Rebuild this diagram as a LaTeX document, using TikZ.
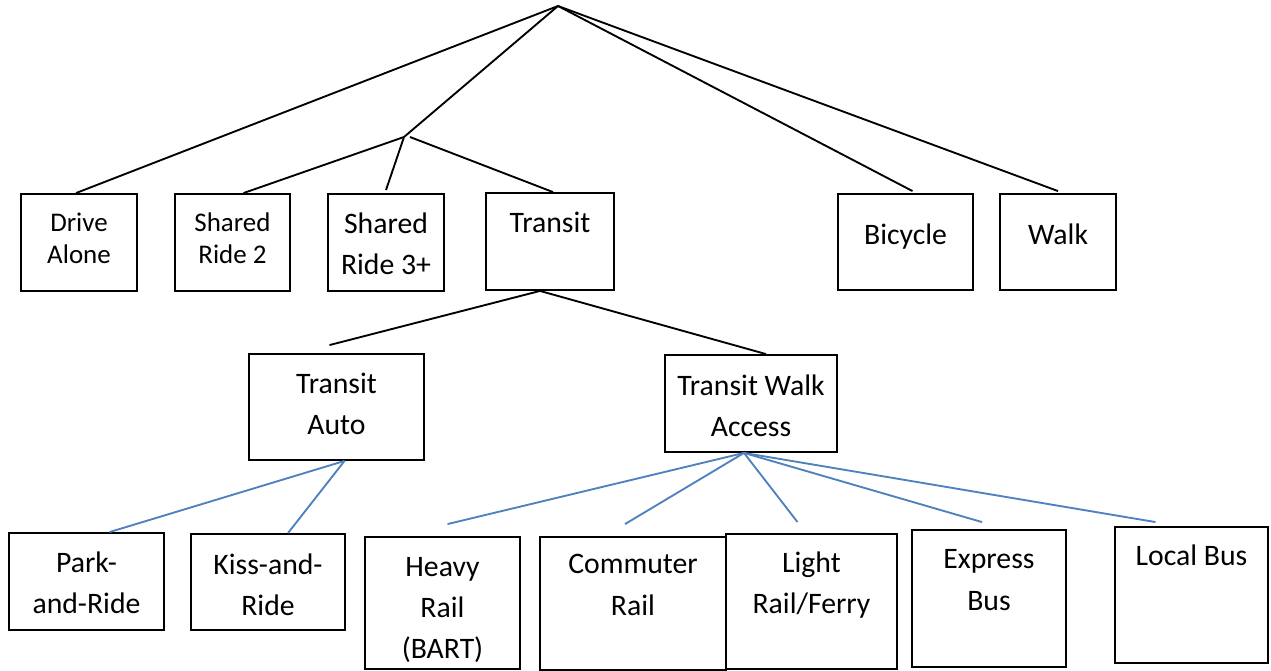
\documentclass[tikz,border=0pt]{standalone}
\usepackage{fontspec}
\setmainfont{Carlito}
\usetikzlibrary{fit, calc}
\definecolor{linkblue}{HTML}{4F81BD}

\begin{document}
\begin{tikzpicture}[x=0.75pt, y=-0.75pt,
  box/.style={rectangle, draw=black, line width=1.4pt, inner sep=0pt},
  modetext/.style={inner sep=0pt, align=center, font=\fontsize{22.3}{31}\selectfont},
  smalltext/.style={font=\fontsize{20.2}{24}\selectfont},
  branch/.style={line width=1.4pt, draw=black},
  sublink/.style={line width=1.4pt, draw=linkblue}
]
  \useasboundingbox (0,0) rectangle (1271,671);

  % Upper level
  \node[box, fit={(21,194) (137,291)}] (drive) {};
  \node[box, fit={(175,194) (290,291)}] (sr2) {};
  \node[box, fit={(328,194) (444,291)}] (sr3) {};
  \node[box, fit={(486,193) (614,290)}] (transit) {};
  \node[box, fit={(838,194) (973,290)}] (bike) {};
  \node[box, fit={(1000,194) (1116,290)}] (walk) {};
  \node[modetext, smalltext] (drivetext) at ($(drive.center)+(0,-4)$) {Drive\\Alone};
  \node[modetext, smalltext] (sr2text) at ($(sr2.center)+(0,-4)$) {Shared\\Ride 2};
  \node[modetext] (sr3text) at ($(sr3.center)+(0,1)$) {Shared\\Ride 3+};
  \node[modetext] (transittext) at ($(transit.center)+(0,1)$) {Transit\\\mbox{}};
  \node[modetext] (biketext) at ($(bike.center)+(0,-5)$) {Bicycle};
  \node[modetext] (walktext) at ($(walk.center)+(0,-8)$) {Walk};

  % Transit access
  \node[box, fit={(249,354) (424,460)}] (tauto) {};
  \node[box, fit={(665,355) (837,452)}] (twalk) {};
  \node[modetext] (tautotext) at ($(tauto.center)+(0,-3)$) {Transit\\Auto};
  \node[modetext] (twalktext) at ($(twalk.center)+(0,2)$) {Transit Walk\\Access};

  % Lower level
  \node[box, fit={(9,533) (164,630)}] (park) {};
  \node[box, fit={(191,534) (345,630)}] (kiss) {};
  \node[box, fit={(365,537) (520,669)}] (heavy) {};
  \node[box, fit={(540,537) (726,670)}] (commuter) {};
  \node[box, fit={(726,534) (897,669)}] (light) {};
  \node[box, fit={(912,530) (1066,667)}] (express) {};
  \node[box, fit={(1115,527) (1268,663)}] (local) {};
  \node[modetext] (parktext) at ($(park.center)+(0,1)$) {Park-\\and-Ride};
  \node[modetext] (kisstext) at ($(kiss.center)+(0,3)$) {Kiss-and-\\Ride};
  \node[modetext] (heavytext) at ($(heavy.center)+(0,7)$) {Heavy\\Rail\\(BART)};
  \node[modetext] (commutertext) at ($(commuter.center)+(0,2)$) {Commuter\\Rail\\\mbox{}};
  \node[modetext] (lighttext) at ($(light.center)+(0,2)$) {Light\\Rail/Ferry\\\mbox{}};
  \node[modetext] (expresstext) at ($(express.center)+(0,2)$) {Express\\Bus\\\mbox{}};
  \node[modetext] (localtext) at ($(local.center)+(0,2)$) {Local Bus\\\mbox{}\\\mbox{}};

  % Branch points
  \coordinate (root) at (558,6);
  \coordinate (shared) at (404,137);

  % Upper links
  \draw[branch] (root) -- ($(drive.north)+(-3,0)$);
  \draw[branch] (root) -- (shared);
  \draw[branch] (root) -- ($(bike.north)+(7,-2)$);
  \draw[branch] (root) -- ($(walk.north)+(0,-2)$);
  \draw[branch] (shared) -- ($(sr2.north)+(11,0)$);
  \draw[branch] (shared) -- ($(sr3.north)+(0,-3)$);
  \draw[branch] ($(shared)+(6,0)$) -- ($(transit.north)+(3,0)$);
  \draw[branch] ($(transit.south)+(-10,0)$) -- ($(tauto.north)+(-7,-8)$);
  \draw[branch] ($(transit.south)+(-10,0)$) -- ($(twalk.north)+(15,0)$);

  % Lower links
  \draw[sublink] ($(tauto.south)+(8,0)$) -- ($(park.north)+(23,0)$);
  \draw[sublink] ($(tauto.south)+(8,0)$) -- ($(kiss.north)+(20,0)$);
  \draw[sublink] ($(twalk.south)+(-7,0)$) -- ($(heavy.north)+(5,-12)$);
  \draw[sublink] ($(twalk.south)+(-7,0)$) -- ($(commuter.north)+(-8,-12)$);
  \draw[sublink] ($(twalk.south)+(-7,0)$) -- ($(light.north)+(-14,-11)$);
  \draw[sublink] ($(twalk.south)+(-7,0)$) -- ($(express.north)+(-7,-7)$);
  \draw[sublink] ($(twalk.south)+(-7,0)$) -- ($(local.north)+(-36,-4)$);
\end{tikzpicture}
\end{document}
